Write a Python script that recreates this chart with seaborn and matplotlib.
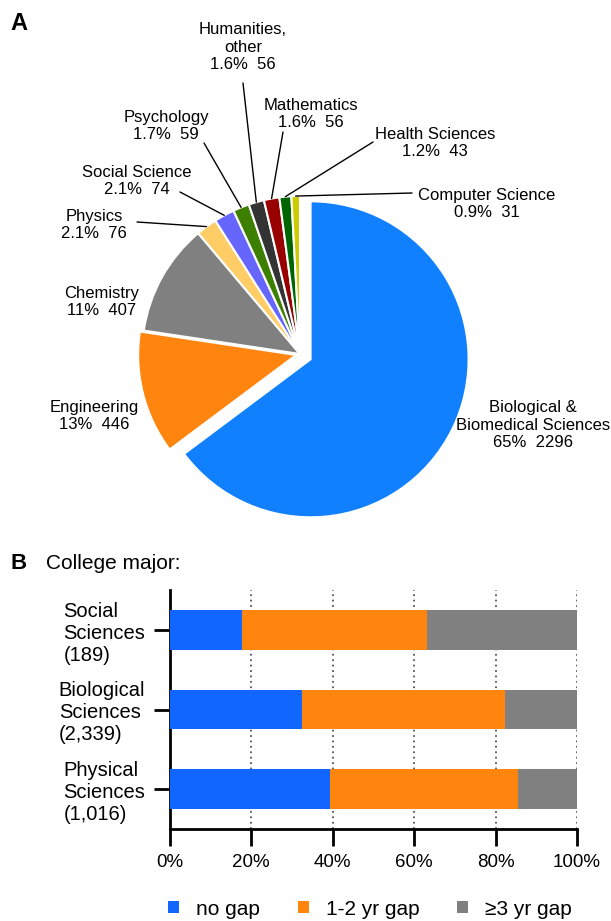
import numpy as np
import pandas as pd
import matplotlib
matplotlib.use("Agg")
import matplotlib.pyplot as plt
from matplotlib.patches import Patch
import seaborn as sns

# --- data ---
fields = ["Biological &\nBiomedical Sciences", "Engineering", "Chemistry", "Physics",
          "Social Science", "Psychology", "Humanities,\nother", "Mathematics",
          "Health Sciences", "Computer Science"]
counts = [2296, 446, 407, 76, 74, 59, 56, 56, 43, 31]
pie_colors = ["#1180FF", "#FF850F", "#808080", "#FFCC66", "#6666FF",
              "#3D7F00", "#333333", "#990000", "#006400", "#CCCC00"]

majors = ["Social\nSciences\n(189)", "Biological\nSciences\n(2,339)", "Physical\nSciences\n(1,016)"]
no_gap = [17.9, 32.4, 39.4]
gap_1_2 = [45.4, 49.9, 46.0]
gap_3 = [36.7, 17.7, 14.6]
gap_names = ["no gap", "1-2 yr gap", "\u22653 yr gap"]
bar_colors = ["#1166FF", "#FF850F", "#808080"]

# --- layout (pixels, top-left origin) ---
W, H = 611, 921
cx, cy, rad = 300, 354, 158
explode = [0.075, 0.025, 0, 0, 0, 0, 0, 0, 0, 0]
label_xy = [(533, 425), (94, 416), (102, 302), (94, 225), (137, 181),
            (166, 126), (243, 47), (311, 114), (435, 143), (487, 204)]
leader_start = [None, None, None, (137, 222), (180, 192), (204, 143),
                (243, 83), (283, 132), (373, 142), (412, 193)]

sns.set_style("white")
plt.rcParams["font.family"] = ["Liberation Sans", "DejaVu Sans"]
plt.rcParams["text.color"] = "black"
plt.rcParams["xtick.color"] = "black"
plt.rcParams["ytick.color"] = "black"

fig = plt.figure(figsize=(W / 100, H / 100), dpi=100)

def fx(px):
    return px / W

def fy(py):
    return 1 - py / H

# ---------- panel A: pie ----------
ax_pie = fig.add_axes([0, fy(545), 1, 545 / H])
wedges, _ = ax_pie.pie(counts, colors=pie_colors, startangle=90, counterclock=False,
                       explode=explode, radius=1,
                       wedgeprops=dict(edgecolor="white", linewidth=1.5))
ax_pie.set_aspect("auto")
ax_pie.set_xlim(-cx / rad, (W - cx) / rad)
ax_pie.set_ylim(-(545 - cy) / rad, cy / rad)
ax_pie.axis("off")

total = sum(counts)
for i, w in enumerate(wedges):
    pct = 100 * counts[i] / total
    pct_txt = f"{pct:.0f}%" if pct >= 10 else f"{pct:.1f}%"
    lx, ly = label_xy[i]
    fig.text(fx(lx), fy(ly), f"{fields[i]}\n{pct_txt}  {counts[i]}",
             ha="center", va="center", multialignment="center", fontsize=12)
    if leader_start[i] is not None:
        th = np.deg2rad((w.theta1 + w.theta2) / 2)
        pt = (w.center[0] + w.r * np.cos(th), w.center[1] + w.r * np.sin(th))
        sx, sy = leader_start[i]
        ax_pie.annotate("", xy=pt, xycoords="data", xytext=(sx, H - sy),
                        textcoords="figure pixels",
                        arrowprops=dict(arrowstyle="-", color="black", lw=1,
                                        shrinkA=0, shrinkB=0))

fig.text(fx(10), fy(23), "A", fontsize=17, fontweight="heavy", va="center")

# ---------- panel B: stacked bars ----------
df = pd.DataFrame({"major": majors, "no": no_gap, "mid": gap_1_2, "late": gap_3})
df["c1"] = df["no"]
df["c2"] = df["no"] + df["mid"]
df["c3"] = df["no"] + df["mid"] + df["late"]

ax = fig.add_axes([fx(169.5), fy(829), 407.5 / W, (829 - 590) / H])
for col, color in zip(["c3", "c2", "c1"], bar_colors[::-1]):
    sns.barplot(data=df, y="major", x=col, orient="h", color=color, width=0.5,
                saturation=1, errorbar=None, linewidth=0, ax=ax, zorder=3)

ax.set_xlim(0, 100)
ax.set_ylim(2.5, -0.5)
ax.set_xticks(range(0, 101, 20))
ax.set_xticklabels([f"{v}%" for v in range(0, 101, 20)], fontsize=13.5)
ax.set_yticks(range(len(majors)))
ax.set_yticklabels(majors, fontsize=14.5, multialignment="left")
ax.set_xlabel("")
ax.set_ylabel("")
ax.xaxis.grid(True, linestyle=(0, (1, 2)), color="#555555", lw=1.3, zorder=0)
ax.set_axisbelow(True)
for s in ["top", "right"]:
    ax.spines[s].set_visible(False)
for s in ["left", "bottom"]:
    ax.spines[s].set_linewidth(2)
    ax.spines[s].set_color("black")
ax.tick_params(axis="x", bottom=True, length=12, width=2, direction="out", pad=6,
               color="black", labelcolor="black")
ax.tick_params(axis="y", left=True, length=11.5, width=2, direction="out", pad=6,
               color="black", labelcolor="black")

fig.text(fx(10), fy(563), "B", fontsize=16, fontweight="heavy", va="center")
fig.text(fx(46), fy(563), "College major:", fontsize=15, va="center")

handles = [Patch(facecolor=c, edgecolor="none") for c in bar_colors]
fig.legend(handles, gap_names, loc="center left", bbox_to_anchor=(fx(168), fy(909)),
           ncol=3, frameon=False, fontsize=15, borderpad=0, borderaxespad=0,
           handlelength=0.55, handleheight=0.5, handletextpad=0.8, columnspacing=1.8)

fig.savefig("out.png", dpi=100)
